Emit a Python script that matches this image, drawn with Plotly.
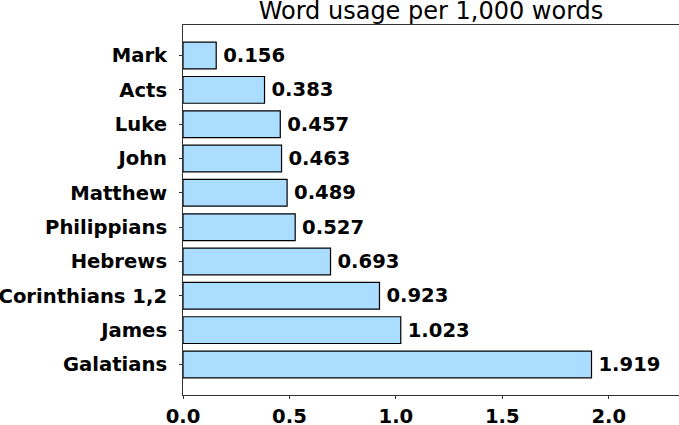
import plotly.graph_objects as go

# books listed bottom -> top
books = ['Galatians', 'James', 'Corinthians 1,2', 'Hebrews', 'Philippians',
         'Matthew', 'John', 'Luke', 'Acts', 'Mark']
usage = [1.919, 1.023, 0.923, 0.693, 0.527, 0.489, 0.463, 0.457, 0.383, 0.156]

label_font = dict(family='DejaVu Sans', size=19.6, color='black', weight='bold')

fig = go.Figure(go.Bar(
    x=usage, y=books, orientation='h',
    marker=dict(color='#aaddff', line=dict(color='black', width=1.2)),
    width=0.78,
    text=['\u2009' + f'{v:.3f}' for v in usage], textposition='outside',
    textfont=label_font, cliponaxis=False, hoverinfo='skip',
))

fig.update_layout(
    width=679, height=425,
    margin=dict(l=183, r=0, t=25, b=30),
    plot_bgcolor='white', paper_bgcolor='white',
    showlegend=False,
    title=dict(text='Word usage per 1,000 words', x=0.5, xref='paper', xanchor='center',
               y=0.995, yanchor='top', pad=dict(t=0),
               font=dict(family='DejaVu Sans', size=24, color='black')),
    xaxis=dict(range=[0, 2.33], tickvals=[0, 0.5, 1.0, 1.5, 2.0],
               ticktext=['0.0', '0.5', '1.0', '1.5', '2.0'],
               showline=True, linecolor='#333', linewidth=1, mirror=True,
               ticks='outside', ticklen=3, tickcolor='#333', automargin=False,
               showgrid=False, zeroline=False, tickfont=label_font),
    yaxis=dict(categoryorder='array', categoryarray=books, range=[-0.89, 9.89],
               showline=True, linecolor='#333', linewidth=1, automargin=False,
               ticks='outside', ticklen=3, tickcolor='#333',
               showgrid=False, tickfont=label_font, ticklabelstandoff=8),
)

# page body has a default 8px margin; drop it so the figure sits at the corner
fig.write_html("out.html", config={'displayModeBar': False},
               post_script="document.body.style.margin='0px';")
